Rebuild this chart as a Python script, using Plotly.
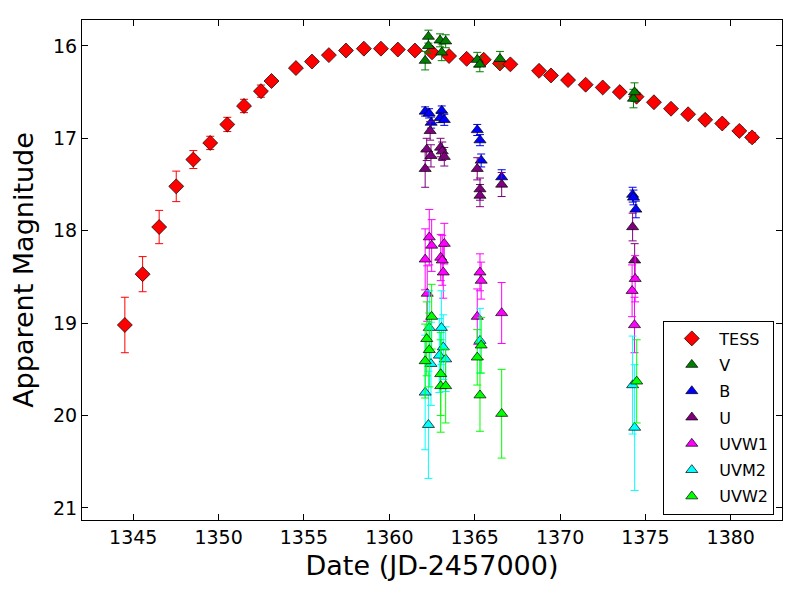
import plotly.graph_objects as go

# TESS
tess_t = [1344.51, 1345.55, 1346.52, 1347.52, 1348.52, 1349.51, 1350.51, 1351.49, 1352.48, 1353.10,
          1354.53, 1355.47, 1356.46, 1357.46, 1358.51, 1359.51, 1360.50, 1361.50, 1362.50, 1363.50,
          1364.53, 1365.53, 1366.48, 1367.09, 1368.77, 1369.47, 1370.47, 1371.50, 1372.50, 1373.50,
          1374.48, 1375.50, 1376.50, 1377.50, 1378.50, 1379.50, 1380.50, 1381.25]
tess_m = [19.02, 18.47, 17.96, 17.52, 17.23, 17.05, 16.85, 16.65, 16.49, 16.38,
          16.24, 16.17, 16.10, 16.05, 16.03, 16.03, 16.04, 16.05, 16.07, 16.11,
          16.14, 16.15, 16.19, 16.20, 16.27, 16.32, 16.37, 16.42, 16.45, 16.50,
          16.55, 16.61, 16.68, 16.74, 16.80, 16.84, 16.92, 16.99]
tess_e = [0.30, 0.19, 0.18, 0.165, 0.097, 0.072, 0.077, 0.072, 0.066, 0.03,
          0.03, 0.03, 0.02, 0.02, 0.02, 0.02, 0.02, 0.02, 0.02, 0.02,
          0.02, 0.03, 0.03, 0.03, 0.03, 0.03, 0.03, 0.03, 0.03, 0.03,
          0.04, 0.03, 0.03, 0.03, 0.04, 0.04, 0.04, 0.05]

# Swift UVOT
v_t = [1362.29, 1362.29, 1362.10, 1362.97, 1363.30, 1363.07, 1365.15, 1365.30, 1366.48, 1374.30, 1374.36]
v_m = [15.90, 16.00, 16.16, 15.94, 15.95, 16.07, 16.15, 16.20, 16.14, 16.57, 16.50]
v_e = [0.07, 0.08, 0.10, 0.07, 0.07, 0.09, 0.08, 0.08, 0.08, 0.10, 0.10]

b_t = [1362.10, 1362.33, 1362.45, 1363.07, 1362.97, 1363.22, 1365.15, 1365.31, 1365.38, 1366.58,
       1374.25, 1374.30, 1374.44]
b_m = [16.71, 16.73, 16.83, 16.70, 16.78, 16.80, 16.91, 17.02, 17.24, 17.42,
       17.61, 17.64, 17.77]
b_e = [0.05, 0.05, 0.06, 0.05, 0.05, 0.06, 0.06, 0.06, 0.07, 0.08,
       0.08, 0.08, 0.09]

u_t = [1362.39, 1362.19, 1362.44, 1362.10, 1363.00, 1363.10, 1363.22, 1365.15, 1365.31, 1365.31,
       1366.58, 1374.25, 1374.37]
u_m = [16.92, 17.12, 17.19, 17.33, 17.10, 17.14, 17.20, 17.33, 17.55, 17.62,
       17.50, 17.96, 18.32]
u_e = [0.10, 0.12, 0.12, 0.20, 0.10, 0.10, 0.10, 0.12, 0.12, 0.12,
       0.13, 0.15, 0.18]

uvw1_t = [1362.34, 1362.48, 1362.10, 1363.22, 1363.01, 1363.10, 1363.16, 1362.22, 1365.31, 1365.38,
          1365.15, 1366.58, 1374.40, 1374.22, 1374.36]
uvw1_m = [18.07, 18.16, 18.31, 18.14, 18.29, 18.32, 18.45, 18.68, 18.45, 18.54,
          18.93, 18.89, 18.52, 18.65, 19.02]
uvw1_e = [0.30, 0.28, 0.33, 0.22, 0.25, 0.27, 0.28, 0.30, 0.20, 0.20,
          0.30, 0.33, 0.25, 0.28, 0.30]

uvm2_t = [1362.34, 1363.05, 1363.16, 1362.93, 1363.30, 1362.44, 1362.10, 1362.29, 1365.31,
          1374.25, 1374.37]
uvm2_m = [19.05, 19.05, 19.26, 19.35, 19.39, 19.44, 19.75, 20.10, 19.19,
          19.67, 20.13]
uvm2_e = [0.40, 0.40, 0.35, 0.40, 0.35, 0.45, 0.62, 0.58, 0.35,
          0.53, 0.68]

uvw2_t = [1362.48, 1362.19, 1362.34, 1362.10, 1363.01, 1363.01, 1363.30, 1365.38, 1365.15, 1365.31,
          1366.58, 1374.49]
uvw2_m = [18.93, 19.17, 19.29, 19.41, 19.55, 19.68, 19.68, 19.24, 19.37, 19.78,
          19.98, 19.63]
uvw2_e = [0.35, 0.40, 0.40, 0.40, 0.45, 0.50, 0.40, 0.30, 0.30, 0.39,
          0.48, 0.45]

series = [
    ("TESS", tess_t, tess_m, tess_e, "red", "diamond", 11.5),
    ("V", v_t, v_m, v_e, "#008000", "triangle-up", 10.5),
    ("B", b_t, b_m, b_e, "blue", "triangle-up", 10.5),
    ("U", u_t, u_m, u_e, "purple", "triangle-up", 10.5),
    ("UVW1", uvw1_t, uvw1_m, uvw1_e, "magenta", "triangle-up", 10.5),
    ("UVM2", uvm2_t, uvm2_m, uvm2_e, "cyan", "triangle-up", 10.5),
    ("UVW2", uvw2_t, uvw2_m, uvw2_e, "lime", "triangle-up", 10.5),
]

fig = go.Figure()
for name, t, m, e, col, sym, sz in series:
    fig.add_trace(go.Scatter(
        x=t, y=m, mode="markers", name=name, legendgroup=name,
        marker=dict(symbol=sym, size=sz, color=col, line=dict(color="black", width=0.7)),
        error_y=dict(type="data", array=e, visible=True, color=col, thickness=1, width=4),
    ))

font_family = "DejaVu Sans"
axis_common = dict(
    showline=True, linecolor="black", linewidth=1.2, mirror="ticks",
    ticks="inside", ticklen=6, tickcolor="black", tickwidth=1,
    showgrid=False, zeroline=False,
    tickfont=dict(family=font_family, size=19, color="black"),
)
fig.update_xaxes(range=[1342, 1383], dtick=5, tick0=1345,
                 title=dict(text="Date (JD-2457000)", font=dict(family=font_family, size=27, color="black"), standoff=9),
                 **axis_common)
fig.update_yaxes(range=[21.13, 15.72], dtick=1,
                 title=dict(text="Apparent Magnitude", font=dict(family=font_family, size=27, color="black"), standoff=12),
                 **axis_common)

# page body has an 8px margin, so the figure is 792x592 and offset by 8px
fig.update_layout(
    width=792, height=592,
    margin=dict(l=74, r=18, t=12, b=80),
    plot_bgcolor="white", paper_bgcolor="white",
    font=dict(family=font_family, color="black"),
    legend=dict(
        x=0.989, y=0.011, xanchor="right", yanchor="bottom",
        bgcolor="white", bordercolor="black", borderwidth=1,
        font=dict(family=font_family, size=16, color="black"),
        tracegroupgap=2.5, itemwidth=45,
    ),
)

fig.write_html("out.html")
